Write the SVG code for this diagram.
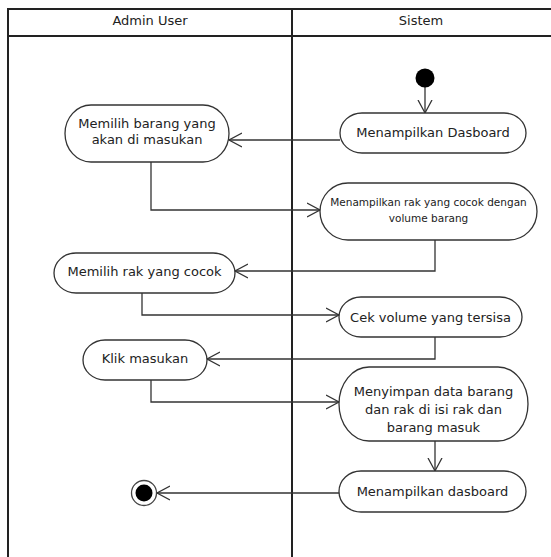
<svg xmlns="http://www.w3.org/2000/svg" width="551" height="557" viewBox="0 0 551 557">
<defs>
<style>
.frame{fill:none;stroke:#222;stroke-width:2}
.node{fill:#fff;stroke:#333;stroke-width:1.3}
.t{font-family:"DejaVu Sans","Liberation Sans",sans-serif;font-size:13px;fill:#222;text-anchor:middle}
.ts{font-size:10.5px}
.conn{fill:none;stroke:#333;stroke-width:1.3}
</style>
<marker id="arr" markerUnits="userSpaceOnUse" markerWidth="16" markerHeight="16" refX="13" refY="8" orient="auto">
<path d="M0,1 L13,8 L0,15" fill="none" stroke="#333" stroke-width="1.3"/>
</marker>
</defs>
<rect width="551" height="557" fill="#fff"/>
<g id="swimlanes">
<path class="frame" d="M8,560 V9 H553 M8,36 H553 M292,9 V560"/>
<text class="t" x="150" y="25">Admin User</text>
<text class="t" x="421" y="25">Sistem</text>
</g>
<g id="connectors">
<path class="conn" d="M425,87 V113" marker-end="url(#arr)"/>
<path class="conn" d="M340,140 H229" marker-end="url(#arr)"/>
<path class="conn" d="M151,162 V210 H320" marker-end="url(#arr)"/>
<path class="conn" d="M435,240 V271 H235" marker-end="url(#arr)"/>
<path class="conn" d="M142,293 V315 H339" marker-end="url(#arr)"/>
<path class="conn" d="M435,337 V359 H207" marker-end="url(#arr)"/>
<path class="conn" d="M151,380 V402 H339" marker-end="url(#arr)"/>
<path class="conn" d="M435,441 V471" marker-end="url(#arr)"/>
<path class="conn" d="M339,493 H157" marker-end="url(#arr)"/>
</g>
<g id="start"><circle cx="425" cy="78" r="9.5" fill="#000"/></g>
<g id="n1">
<rect class="node" x="340" y="113" width="186" height="40" rx="22" ry="20"/>
<text class="t" x="433" y="137">Menampilkan Dasboard</text>
</g>
<g id="n2">
<rect class="node" x="65" y="105" width="164" height="57" rx="26" ry="28.5"/>
<text class="t" x="147" y="128">Memilih barang yang</text>
<text class="t" x="147" y="144">akan di masukan</text>
</g>
<g id="n3">
<rect class="node" x="320" y="183" width="217" height="57" rx="28" ry="28.5"/>
<text class="t ts" x="428.5" y="206">Menampilkan rak yang cocok dengan</text>
<text class="t ts" x="428.5" y="222">volume barang</text>
</g>
<g id="n4">
<rect class="node" x="54" y="253" width="181" height="40" rx="22" ry="20"/>
<text class="t" x="144.5" y="276">Memilih rak yang cocok</text>
</g>
<g id="n5">
<rect class="node" x="339" y="297" width="183" height="40" rx="22" ry="20"/>
<text class="t" x="430.5" y="322">Cek volume yang tersisa</text>
</g>
<g id="n6">
<rect class="node" x="83" y="340" width="124" height="40" rx="22" ry="20"/>
<text class="t" x="145" y="363">Klik masukan</text>
</g>
<g id="n7">
<rect class="node" x="339" y="367" width="189" height="74" rx="30" ry="37"/>
<text class="t" x="433.5" y="396">Menyimpan data barang</text>
<text class="t" x="433.5" y="414">dan rak di isi rak dan</text>
<text class="t" x="433.5" y="432">barang masuk</text>
</g>
<g id="n8">
<rect class="node" x="339" y="471" width="187" height="41" rx="22" ry="20.5"/>
<text class="t" x="432.5" y="496">Menampilkan dasboard</text>
</g>
<g id="end">
<circle cx="144" cy="493" r="12.5" fill="#fff" stroke="#444" stroke-width="1.3"/>
<circle cx="144" cy="493" r="8.5" fill="#000"/>
</g>
</svg>
